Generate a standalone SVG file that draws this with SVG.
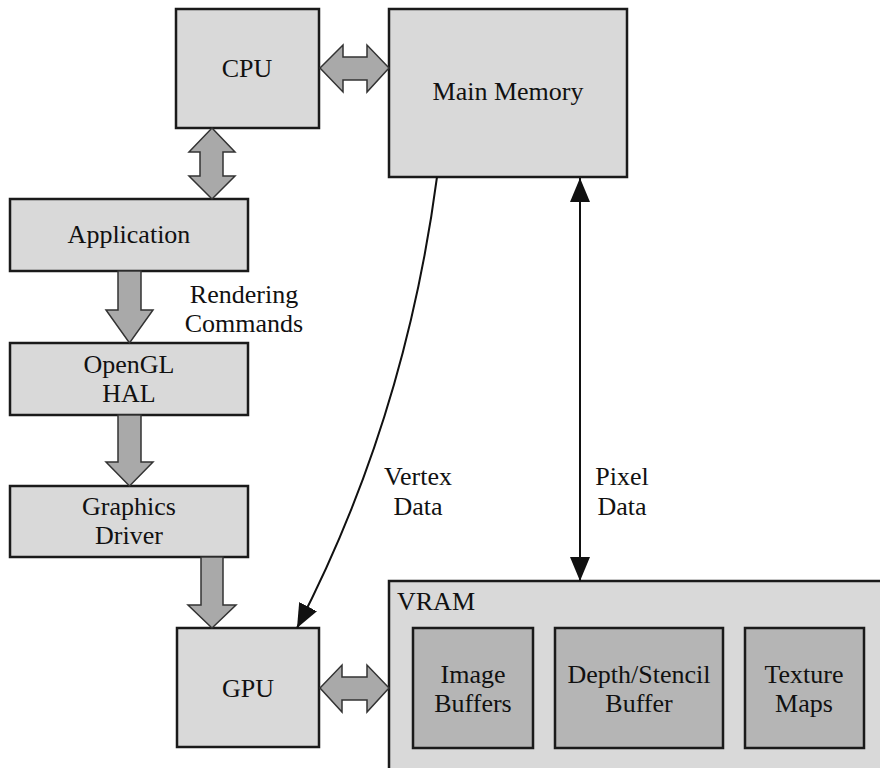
<svg xmlns="http://www.w3.org/2000/svg" width="880" height="768" viewBox="0 0 880 768">
<style>
.box{fill:#d9d9d9;stroke:#1a1a1a;stroke-width:2.5}
.inner{fill:#b5b5b5;stroke:#1a1a1a;stroke-width:2.5}
.blk{fill:#a9a9a9;stroke:#333;stroke-width:1.5;stroke-linejoin:miter}
.ln{fill:none;stroke:#111;stroke-width:2}
text{font-family:"Liberation Serif","Times New Roman",serif;font-size:26px;fill:#111;text-anchor:middle}
</style>
<defs>
<marker id="ah" viewBox="0 0 24 20" refX="24" refY="10" markerWidth="24" markerHeight="20" markerUnits="userSpaceOnUse" orient="auto-start-reverse">
<path d="M0,0 L24,10 L0,20 Z" fill="#111"/>
</marker>
</defs>
<rect width="880" height="768" fill="#fff"/>
<g id="cpu"><rect class="box" x="176" y="9" width="143" height="119"/><text x="247" y="77">CPU</text></g>
<g id="main-memory"><rect class="box" x="389" y="9" width="238" height="168"/><text x="508" y="100">Main Memory</text></g>
<g id="application"><rect class="box" x="10" y="199" width="238" height="72"/><text x="129" y="243">Application</text></g>
<g id="opengl-hal"><rect class="box" x="10" y="343" width="238" height="72"/><text x="129" y="373">OpenGL</text><text x="129" y="402">HAL</text></g>
<g id="graphics-driver"><rect class="box" x="10" y="486" width="238" height="71"/><text x="129" y="515">Graphics</text><text x="129" y="544">Driver</text></g>
<g id="gpu"><rect class="box" x="177" y="628" width="142" height="119"/><text x="248" y="697">GPU</text></g>
<g id="vram"><rect class="box" x="389" y="581" width="500" height="200"/><text x="397" y="610" style="text-anchor:start">VRAM</text></g>
<g id="image-buffers"><rect class="inner" x="413" y="628" width="120" height="120"/><text x="473" y="683">Image</text><text x="473" y="712">Buffers</text></g>
<g id="depth-stencil-buffer"><rect class="inner" x="555" y="628" width="168" height="120"/><text x="639" y="683">Depth/Stencil</text><text x="639" y="712">Buffer</text></g>
<g id="texture-maps"><rect class="inner" x="745" y="628" width="119" height="120"/><text x="804" y="683">Texture</text><text x="804" y="712">Maps</text></g>
<g id="connectors">
<polygon class="blk" points="320,68 343,45 343,57 367,57 367,45 389,68 367,92 367,80 343,80 343,92"/>
<polygon class="blk" points="212,128 235,152 223,152 223,176 235,176 212,199 189,176 200,176 200,152 189,152"/>
<polygon class="blk" points="118,271 141,271 141,310 153,310 129.5,343 106,310 118,310"/>
<polygon class="blk" points="118,415 141,415 141,462 153,462 129.5,486 106,462 118,462"/>
<polygon class="blk" points="201,557 223,557 223,605 236,605 212,628 188,605 201,605"/>
<polygon class="blk" points="320,688 342,665 342,677 367,677 367,665 389,688 367,712 367,700 342,700 342,712"/>
<path class="ln" d="M437,177 Q405,420 297,628" marker-end="url(#ah)"/>
<line class="ln" x1="580" y1="178" x2="580" y2="581" marker-start="url(#ah)" marker-end="url(#ah)"/>
<text x="244" y="303">Rendering</text>
<text x="244" y="332">Commands</text>
<text x="418" y="485">Vertex</text>
<text x="418" y="515">Data</text>
<text x="622" y="485">Pixel</text>
<text x="622" y="515">Data</text>
</g>
</svg>
